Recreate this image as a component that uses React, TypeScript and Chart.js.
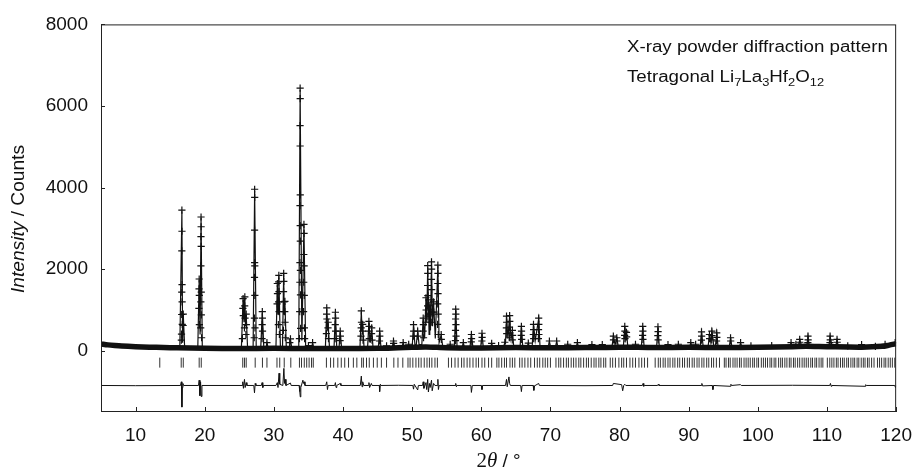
import React, { useEffect, useRef } from "react";
import { Chart, registerables } from "chart.js";

Chart.register(...registerables);

// ---- axis setup ----
const xMin = 5;
const xMax = 120;
const yMin = -1500;
const yMax = 8000;
const xTickValues = [10, 20, 30, 40, 50, 60, 70, 80, 90, 100, 110, 120];
const yTickValues = [0, 2000, 4000, 6000, 8000];
const reflectionLevel = -290;

// ---- observed background band (2θ, counts) ----
const bandX = [5, 6, 7, 8, 10, 12, 14, 16, 20, 25, 30, 35, 40, 45, 48, 50, 52, 55, 60, 65, 70, 75, 80, 85, 90, 95, 100, 105, 107, 110, 115, 118, 119, 120];
const bandY = [170, 145, 128, 115, 100, 90, 80, 72, 62, 58, 60, 58, 56, 62, 75, 85, 95, 75, 70, 78, 75, 78, 90, 80, 85, 82, 85, 100, 110, 100, 90, 110, 140, 175];

// ---- observed points (2θ, counts) ----
const observed: number[][] = [
  [16.70, 3450], [16.71, 2930], [16.69, 2450], [16.72, 1620], [16.68, 1440], [16.73, 1200], [16.67, 890], [16.75, 650], [16.64, 410], [16.90, 900], [16.88, 620], [16.62, 260],
  [19.20, 1760], [19.18, 1520], [19.22, 1360], [19.16, 1040], [19.23, 640],
  [19.47, 3280], [19.48, 3040], [19.46, 2800], [19.49, 2560], [19.45, 2080], [19.50, 1440], [19.44, 1200], [19.51, 880], [19.42, 560], [19.55, 320],
  [25.55, 1280], [25.52, 1040], [25.58, 860], [25.80, 1320], [25.78, 1100], [25.83, 800], [25.75, 560], [26.00, 900], [26.02, 640], [25.96, 400], [25.45, 300],
  [27.22, 3960], [27.23, 3760], [27.21, 2960], [27.22, 2160], [27.24, 2080], [27.20, 1800], [27.25, 1360], [27.19, 800], [27.27, 560], [27.16, 320],
  [28.33, 960], [28.34, 800], [28.31, 640], [28.36, 480], [28.29, 300], [29.00, 200],
  [30.50, 1650], [30.52, 1400], [30.47, 1150], [30.72, 1850], [30.70, 1690], [30.74, 1450], [30.68, 1200], [30.76, 960], [30.65, 640], [30.80, 400],
  [31.42, 1900], [31.44, 1700], [31.40, 1450], [31.46, 1200], [31.60, 1210], [31.58, 960], [31.62, 700], [31.38, 500], [31.66, 320], [32.40, 290], [32.30, 200],
  [33.80, 6440], [33.81, 6180], [33.79, 5520], [33.80, 5020], [33.82, 3820], [33.78, 3560], [33.81, 3070], [33.83, 2690], [33.77, 2160], [33.84, 1970], [33.76, 1680], [33.85, 1370], [33.74, 960], [33.87, 550], [33.70, 300],
  [34.35, 3100], [34.37, 2880], [34.33, 2360], [34.38, 2080], [34.32, 1680], [34.40, 1360], [34.30, 960], [34.42, 560], [34.45, 300],
  [35.00, 130], [35.60, 200],
  [37.65, 1050], [37.63, 900], [37.67, 780], [37.85, 700], [37.83, 560], [37.60, 420], [37.90, 300],
  [38.90, 945], [38.92, 800], [38.88, 640], [38.93, 480], [38.86, 300], [39.60, 480], [39.62, 360], [39.58, 250],
  [42.65, 980], [42.67, 700], [42.63, 560], [42.85, 650], [42.83, 480], [42.60, 360], [42.90, 260],
  [43.75, 720], [43.77, 600], [43.73, 480], [44.15, 560], [44.13, 420], [43.80, 300], [44.20, 260],
  [45.30, 480], [45.32, 360], [45.28, 240], [46.30, 120], [47.30, 240], [47.32, 180], [48.70, 200], [49.50, 160],
  [50.20, 640], [50.22, 480], [50.18, 360], [50.80, 480], [50.82, 360], [51.60, 800], [51.62, 640], [51.58, 480], [51.65, 320],
  [52.00, 1300], [52.02, 1000], [51.98, 700], [52.25, 2090], [52.26, 1900], [52.24, 1600], [52.27, 1350], [52.23, 1100], [52.28, 850],
  [52.55, 1120], [52.53, 900], [52.80, 2180], [52.81, 2000], [52.79, 1750], [52.82, 1500], [52.78, 1250], [52.84, 950], [52.76, 700],
  [53.10, 1200], [53.12, 950], [53.72, 2100], [53.73, 1900], [53.71, 1650], [53.74, 1400], [53.70, 1150], [53.76, 900], [53.68, 650], [53.78, 400],
  [54.20, 400], [54.22, 280], [55.50, 160],
  [56.30, 1020], [56.32, 900], [56.28, 780], [56.33, 640], [56.27, 500], [56.35, 360], [56.25, 250],
  [57.40, 200], [58.57, 400], [58.59, 300], [58.55, 220], [60.10, 430], [60.12, 330], [60.08, 240], [61.50, 180], [62.50, 130], [63.40, 210],
  [63.65, 850], [63.67, 700], [63.63, 560], [63.68, 420], [64.10, 860], [64.12, 720], [64.08, 580], [64.13, 440], [64.06, 320], [64.50, 500], [64.52, 380], [64.48, 270],
  [65.80, 600], [65.82, 480], [65.78, 380], [65.84, 280], [66.80, 190], [67.55, 650], [67.57, 520], [67.53, 400], [67.58, 300],
  [68.30, 800], [68.32, 650], [68.28, 520], [68.33, 400], [68.26, 300], [69.85, 240], [70.90, 240], [72.50, 160], [73.90, 200], [76.00, 150], [77.50, 150],
  [79.10, 360], [79.12, 270], [79.60, 320], [79.62, 240], [80.75, 600], [80.77, 480], [80.73, 380], [80.78, 300], [81.00, 450], [81.02, 340], [82.30, 160],
  [83.35, 600], [83.37, 480], [83.33, 380], [83.38, 280], [85.55, 590], [85.57, 470], [85.53, 370], [85.58, 270], [87.00, 150], [88.50, 160], [90.30, 200], [91.00, 160],
  [91.85, 465], [91.87, 360], [91.83, 260], [93.00, 400], [93.02, 300], [93.35, 480], [93.37, 370], [93.33, 270], [94.05, 440], [94.07, 330], [94.03, 240],
  [96.05, 320], [96.07, 240], [97.50, 200], [99.00, 120], [102.00, 130], [104.80, 200], [105.50, 160], [106.05, 280], [106.07, 210],
  [107.25, 360], [107.27, 270], [107.23, 200], [110.45, 360], [110.47, 270], [110.43, 200], [111.45, 280], [111.47, 210], [113.00, 120], [115.00, 150], [117.00, 110], [118.40, 160], [119.86, 200],
];

// ---- calculated profile (2θ, counts) ----
const calculated: number[][] = [
  [5, 160], [8, 112], [12, 88], [16.40, 75], [16.70, 3420], [16.80, 200], [16.90, 880], [17.10, 72],
  [19.00, 70], [19.20, 1740], [19.33, 400], [19.47, 3260], [19.65, 68],
  [25.30, 60], [25.55, 1250], [25.68, 700], [25.80, 1300], [25.90, 600], [26.00, 880], [26.20, 60],
  [27.00, 60], [27.22, 3920], [27.45, 60], [28.10, 60], [28.33, 940], [28.55, 60], [28.85, 60], [29.00, 190], [29.20, 60],
  [30.30, 60], [30.50, 1620], [30.60, 900], [30.72, 1830], [30.95, 70], [31.25, 70], [31.42, 1880], [31.50, 900], [31.60, 1180], [31.80, 70], [32.25, 60], [32.40, 280], [32.60, 60],
  [33.60, 70], [33.80, 6400], [34.05, 250], [34.35, 3080], [34.60, 70], [34.85, 60], [35.00, 120], [35.20, 60], [35.45, 60], [35.60, 190], [35.80, 60],
  [37.45, 60], [37.65, 1030], [37.75, 500], [37.85, 680], [38.05, 60], [38.70, 60], [38.90, 930], [39.10, 60], [39.42, 60], [39.60, 470], [39.80, 60],
  [42.45, 60], [42.65, 960], [42.75, 500], [42.85, 640], [43.05, 60], [43.55, 60], [43.75, 700], [43.95, 200], [44.15, 550], [44.35, 60], [45.10, 60], [45.30, 470], [45.50, 60],
  [46.10, 65], [46.30, 110], [46.50, 65], [47.10, 70], [47.30, 230], [47.50, 70], [48.50, 75], [48.70, 190], [48.90, 75], [49.30, 80], [49.50, 150], [49.70, 85],
  [50.00, 85], [50.20, 620], [50.40, 150], [50.60, 150], [50.80, 470], [51.00, 150], [51.40, 150], [51.60, 780], [51.80, 300], [52.00, 1280], [52.12, 700], [52.25, 2050],
  [52.45, 400], [52.55, 1100], [52.65, 500], [52.80, 2150], [52.95, 600], [53.10, 1180], [53.35, 300], [53.72, 2080], [53.90, 200], [54.20, 380], [54.45, 70],
  [55.30, 70], [55.50, 150], [55.70, 70], [56.10, 70], [56.30, 1000], [56.50, 70], [57.20, 70], [57.40, 190], [57.60, 70], [58.35, 70], [58.57, 390], [58.80, 70],
  [59.90, 70], [60.10, 420], [60.30, 70], [61.30, 75], [61.50, 170], [61.70, 75], [62.30, 75], [62.50, 120], [62.70, 75], [63.20, 80], [63.40, 200], [63.50, 180],
  [63.65, 840], [63.85, 300], [64.10, 850], [64.30, 300], [64.50, 480], [64.70, 80], [65.60, 80], [65.80, 590], [66.00, 80], [66.60, 80], [66.80, 180], [67.00, 80],
  [67.35, 80], [67.55, 640], [67.80, 250], [68.30, 790], [68.50, 80], [69.65, 80], [69.85, 230], [70.05, 80], [70.70, 80], [70.90, 230], [71.10, 80],
  [72.30, 80], [72.50, 150], [72.70, 80], [73.70, 80], [73.90, 190], [74.10, 80], [75.80, 80], [76.00, 150], [76.20, 80], [77.30, 85], [77.50, 140], [77.70, 85],
  [78.90, 90], [79.10, 350], [79.35, 150], [79.60, 310], [79.80, 120], [80.55, 100], [80.75, 590], [80.87, 300], [81.00, 440], [81.20, 90],
  [82.10, 85], [82.30, 150], [82.50, 85], [83.15, 85], [83.35, 590], [83.55, 90], [85.35, 85], [85.55, 580], [85.75, 90], [86.80, 80], [87.00, 140], [87.20, 80],
  [88.30, 80], [88.50, 150], [88.70, 80], [90.10, 80], [90.30, 190], [90.50, 90], [90.80, 90], [91.00, 150], [91.20, 90], [91.65, 90], [91.85, 450], [92.10, 100],
  [92.80, 100], [93.00, 390], [93.20, 200], [93.35, 470], [93.60, 150], [93.85, 100], [94.05, 430], [94.25, 90], [95.85, 85], [96.05, 310], [96.25, 90],
  [97.30, 85], [97.50, 190], [97.70, 85], [99.00, 110], [102.00, 120], [104.60, 100], [104.80, 190], [105.00, 100], [105.30, 100], [105.50, 150], [105.70, 110],
  [105.85, 110], [106.05, 270], [106.30, 140], [107.05, 100], [107.25, 350], [107.45, 95], [110.25, 95], [110.45, 350], [110.70, 150], [111.25, 100], [111.45, 270], [111.65, 90],
  [113.00, 110], [114.80, 95], [115.00, 140], [115.20, 95], [116.80, 95], [117.00, 100], [118.20, 100], [118.40, 150], [118.60, 110], [119.70, 130], [119.86, 190], [120, 170],
];

// ---- difference curve (obs - calc, offset) ----
const difference: number[][] = [
  [5, -850], [10, -855], [16.50, -850], [16.62, -760], [16.70, -1380], [16.76, -900], [16.85, -800], [16.95, -850],
  [19.10, -850], [19.20, -720], [19.30, -1100], [19.40, -760], [19.50, -1120], [19.60, -850],
  [25.40, -850], [25.50, -760], [25.60, -920], [25.75, -700], [25.85, -900], [26.00, -780], [26.10, -850],
  [27.10, -850], [27.20, -1030], [27.30, -800], [27.40, -850], [28.20, -850], [28.30, -780], [28.40, -900], [28.50, -850],
  [30.30, -850], [30.50, -780], [30.60, -900], [30.75, -550], [30.85, -820], [31.30, -850], [31.45, -430], [31.55, -800], [31.65, -700], [31.75, -850], [32.40, -790], [32.50, -850],
  [33.65, -850], [33.75, -1000], [33.82, -1130], [33.90, -900], [34.20, -720], [34.30, -800], [34.40, -760], [34.50, -850],
  [37.50, -850], [37.65, -760], [37.75, -950], [37.85, -850], [38.80, -850], [38.90, -780], [39.00, -900], [39.10, -850], [39.60, -800], [39.70, -850],
  [42.50, -850], [42.65, -620], [42.75, -880], [42.85, -760], [43.00, -850], [43.70, -850], [43.75, -780], [43.85, -900], [44.10, -800], [44.20, -850],
  [45.25, -850], [45.30, -1000], [45.40, -820], [45.50, -850], [48.00, -845],
  [50.10, -850], [50.20, -940], [50.30, -820], [50.80, -960], [50.90, -850], [51.50, -850], [51.60, -760], [51.70, -920], [52.00, -780], [52.10, -950],
  [52.25, -700], [52.35, -1010], [52.50, -800], [52.60, -900], [52.80, -720], [52.90, -980], [53.10, -800], [53.30, -850], [53.65, -850], [53.72, -700], [53.80, -950], [53.90, -850],
  [56.20, -850], [56.30, -800], [56.40, -880], [56.50, -850], [58.50, -850], [58.57, -1020], [58.70, -850], [60.00, -850], [60.10, -950], [60.20, -850],
  [63.50, -850], [63.65, -700], [63.75, -880], [64.00, -640], [64.10, -800], [64.20, -850], [65.70, -850], [65.80, -1000], [65.90, -850],
  [67.50, -850], [67.60, -970], [67.70, -860], [68.30, -800], [68.40, -850], [75.00, -855],
  [79.00, -850], [79.10, -800], [80.30, -830], [80.45, -980], [80.60, -850], [80.75, -820], [80.90, -850], [83.30, -850], [83.40, -800], [83.50, -870], [83.60, -850],
  [85.50, -850], [85.60, -820], [85.70, -850], [91.80, -850], [91.90, -800], [92.00, -860], [93.40, -850], [93.50, -950], [93.60, -850],
  [96.00, -870], [96.10, -820], [96.20, -850], [97.50, -830], [97.60, -850], [105.00, -845], [110.40, -850], [110.50, -800], [110.60, -870], [110.70, -850],
  [115.50, -870], [115.60, -830], [115.70, -850], [119.80, -850], [119.90, -900], [120, -850],
];

// ---- reflection positions (2θ) ----
const reflections = [
  13.5, 16.6, 16.9, 19.2, 19.5, 25.5, 25.75, 26.0, 27.3, 28.35, 29.0, 30.45, 30.85, 31.5, 32.45, 33.7, 34.0, 34.4, 34.75, 35.1, 35.45, 35.7,
  37.6, 38.2, 38.65, 39.25, 39.75, 40.25, 40.8, 41.5, 42.0, 42.7, 42.95, 43.4, 43.8, 44.4, 44.95, 45.55, 46.3, 47.35, 47.95, 48.65, 49.4, 49.7,
  50.1, 50.55, 50.95, 51.3, 51.75, 52.15, 52.5, 52.85, 53.3, 53.65, 55.25, 55.7, 56.2, 56.65, 57.15, 57.5, 57.95, 58.35, 58.8, 59.25, 59.6,
  60.1, 60.5, 61.05, 61.5, 62.25, 62.55, 62.95, 63.35, 63.65, 64.15, 64.5, 64.85, 65.55, 65.9, 66.3, 66.75, 67.15, 67.7, 68.1, 68.45, 68.9,
  69.25, 69.6, 70.0, 70.8, 71.2, 71.5, 71.9, 72.3, 72.6, 73.0, 73.35, 73.7, 74.1, 74.4, 74.8, 75.2, 75.5, 75.9, 76.3, 76.6, 77.0, 77.3, 77.7,
  78.0, 78.65, 79.0, 79.4, 79.9, 80.3, 80.6, 81.0, 81.5, 81.9, 82.3, 82.8, 83.2, 83.6, 84.05, 85.15, 85.6, 85.9, 86.3, 86.6, 87.0, 87.3, 87.7,
  88.0, 88.4, 88.7, 89.1, 89.4, 89.8, 90.1, 90.5, 90.8, 91.2, 91.5, 91.9, 92.2, 92.6, 92.9, 93.3, 93.6, 94.0, 94.45, 95.15, 95.4, 95.75, 96.0,
  96.4, 96.7, 97.0, 97.35, 97.6, 98.0, 98.3, 98.6, 98.9, 99.25, 99.5, 99.85, 100.1, 100.5, 100.8, 101.1, 101.4, 101.75, 102.0, 102.35, 102.6,
  103.0, 103.3, 103.55, 103.9, 104.2, 104.55, 104.8, 105.15, 105.4, 105.75, 106.05, 106.4, 106.7, 107.0, 107.3, 107.65, 107.9, 108.25, 108.5,
  108.85, 109.15, 109.4, 110.05, 110.4, 110.7, 111.0, 111.35, 111.6, 111.95, 112.25, 112.5, 112.85, 113.1, 113.45, 113.75, 114.0, 114.35,
  114.6, 114.95, 115.25, 115.5, 115.85, 116.1, 116.45, 116.8, 117.3, 117.6, 117.9, 118.25, 118.5, 118.85, 119.15, 119.45, 119.8,
];

const SANS = '"Liberation Sans", Arial, Helvetica, sans-serif';
const SERIF = '"Liberation Serif", "Times New Roman", serif';
const INK = "#111111";

const toXY = (pts: number[][]) => pts.map((p) => ({ x: p[0], y: p[1] }));

const decorPlugin = {
  id: "decor",
  afterDraw(chart: any) {
    const { ctx, chartArea: a, scales } = chart;
    ctx.save();
    // frame
    ctx.strokeStyle = "#222";
    ctx.lineWidth = 1;
    ctx.strokeRect(a.left + 0.5, a.top + 0.5, a.right - a.left - 1, a.bottom - a.top - 1);
    // inward ticks
    ctx.beginPath();
    yTickValues.forEach((v) => {
      const y = Math.round(scales.y.getPixelForValue(v)) + 0.5;
      ctx.moveTo(a.left, y);
      ctx.lineTo(a.left + 4, y);
    });
    xTickValues.forEach((v) => {
      const x = Math.round(scales.x.getPixelForValue(v)) + 0.5;
      ctx.moveTo(x, a.bottom);
      ctx.lineTo(x, a.bottom - 5);
    });
    ctx.stroke();

    ctx.fillStyle = INK;
    ctx.textBaseline = "alphabetic";
    // y title
    ctx.save();
    ctx.translate(24, 219);
    ctx.rotate(-Math.PI / 2);
    const p1 = "Intensity";
    const p2 = " / Counts";
    ctx.font = `italic 18px ${SANS}`;
    const w1 = ctx.measureText(p1).width;
    ctx.font = `18px ${SANS}`;
    const w2 = ctx.measureText(p2).width;
    const sx = 148 / (w1 + w2);
    ctx.scale(sx, 1);
    const start = -(w1 + w2) / 2;
    ctx.font = `italic 18px ${SANS}`;
    ctx.fillText(p1, start, 0);
    ctx.font = `18px ${SANS}`;
    ctx.fillText(p2, start + w1, 0);
    ctx.restore();

    // x title: 2θ / °
    ctx.save();
    const parts: [string, string][] = [
      ["2", `21px ${SERIF}`],
      ["θ", `italic 21px ${SERIF}`],
      [" / °", `19px ${SANS}`],
    ];
    let total = 0;
    parts.forEach(([t, f]) => {
      ctx.font = f;
      total += ctx.measureText(t).width;
    });
    let cx = (a.left + a.right) / 2 - total / 2;
    parts.forEach(([t, f]) => {
      ctx.font = f;
      ctx.fillText(t, cx, 467);
      cx += ctx.measureText(t).width;
    });
    ctx.restore();

    // annotation
    ctx.save();
    ctx.translate(627, 0);
    ctx.scale(1.17, 1);
    ctx.font = `16px ${SANS}`;
    ctx.fillText("X-ray powder diffraction pattern", 0, 52);
    const segs: [string, boolean][] = [
      ["Tetragonal Li", false], ["7", true], ["La", false], ["3", true],
      ["Hf", false], ["2", true], ["O", false], ["12", true],
    ];
    let tx = 0;
    segs.forEach(([t, sub]) => {
      ctx.font = sub ? `11px ${SANS}` : `16px ${SANS}`;
      ctx.fillText(t, tx, sub ? 86 : 82);
      tx += ctx.measureText(t).width;
    });
    ctx.restore();

    ctx.restore();
  },
};

export default function App() {
  const ref = useRef<HTMLCanvasElement | null>(null);

  useEffect(() => {
    document.body.style.margin = "0";
    document.body.style.overflow = "hidden";
    if (!ref.current) return;
    const chart = new Chart(ref.current, {
      type: "scatter",
      data: {
        datasets: [
          {
            label: "Observed",
            data: toXY(observed),
            pointStyle: "cross",
            pointRadius: 3.6,
            pointBorderWidth: 1.2,
            borderColor: INK,
            backgroundColor: INK,
            showLine: false,
          } as any,
          {
            label: "Calculated",
            data: toXY(calculated),
            showLine: true,
            borderColor: INK,
            borderWidth: 1.2,
            pointRadius: 0,
            tension: 0,
          },
          {
            label: "Observed background",
            data: bandX.map((x, i) => ({ x, y: bandY[i] })),
            showLine: true,
            borderColor: INK,
            borderWidth: 5.5,
            pointRadius: 0,
            tension: 0.3,
          },
          {
            label: "Reflections",
            data: reflections.map((x) => ({ x, y: reflectionLevel })),
            pointStyle: "line",
            rotation: 90,
            pointRadius: 5,
            pointBorderWidth: 1,
            borderColor: "#333",
            backgroundColor: "#333",
            showLine: false,
          } as any,
          {
            label: "Difference",
            data: toXY(difference),
            showLine: true,
            borderColor: INK,
            borderWidth: 1,
            pointRadius: 0,
            tension: 0,
          },
        ],
      },
      options: {
        animation: false,
        responsive: false,
        maintainAspectRatio: false,
        events: [],
        layout: { padding: { top: 17, right: 17, left: 0, bottom: 0 } },
        plugins: { legend: { display: false }, tooltip: { enabled: false }, title: { display: false } },
        scales: {
          x: {
            type: "linear",
            min: xMin,
            max: xMax,
            grid: { display: false, drawTicks: false },
            border: { display: false },
            afterBuildTicks: (s: any) => {
              s.ticks = xTickValues.map((v) => ({ value: v }));
            },
            afterFit: (s: any) => {
              s.height = 58;
            },
            ticks: {
              color: INK,
              padding: 12,
              maxRotation: 0,
              autoSkip: false,
              font: { family: SANS, size: 19 },
              callback: (v: any) => String(v),
            },
          },
          y: {
            type: "linear",
            min: yMin,
            max: yMax,
            grid: { display: false, drawTicks: false },
            border: { display: false },
            afterBuildTicks: (s: any) => {
              s.ticks = yTickValues.map((v) => ({ value: v }));
            },
            afterFit: (s: any) => {
              s.width = 101;
            },
            ticks: {
              color: INK,
              padding: 13,
              autoSkip: false,
              font: { family: SANS, size: 19 },
              callback: (v: any) => String(v),
            },
          },
        },
      },
      plugins: [decorPlugin],
    });
    return () => chart.destroy();
  }, []);

  return (
    <div style={{ width: 924, height: 470, background: "#fff" }}>
      <canvas ref={ref} width={924} height={470} style={{ display: "block" }} />
    </div>
  );
}
